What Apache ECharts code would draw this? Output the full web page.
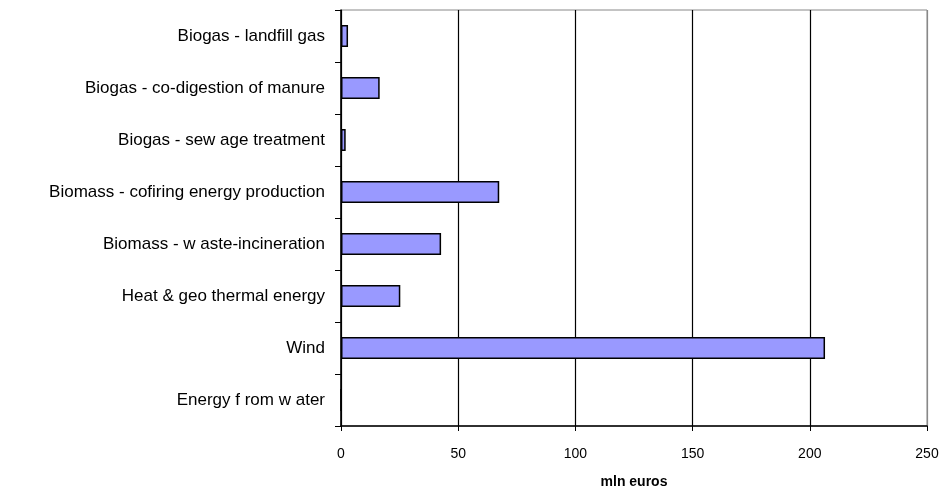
<!DOCTYPE html>
<html>
<head>
<meta charset="utf-8">
<script src="https://cdn.jsdelivr.net/npm/echarts@6/dist/echarts.min.js"></script>
<style>
  html, body { margin: 0; padding: 0; background: #fff; }
  #chart { width: 944px; height: 489px; }
</style>
</head>
<body>
<div id="chart"></div>
<script>
// Investment per renewable source, listed top to bottom
const categories = [
  'Biogas - landfill gas',
  'Biogas - co-digestion of manure',
  'Biogas - sew age treatment',
  'Biomass - cofiring energy production',
  'Biomass - w aste-incineration',
  'Heat & geo thermal energy',
  'Wind',
  'Energy f rom w ater'
];
const values = [3, 16.5, 2, 67.5, 42.7, 25.3, 206.5, 0];
const xTicks = [0, 50, 100, 150, 200, 250];
const xAxisTitle = 'mln euros';

const chart = echarts.init(document.getElementById('chart'), null, { renderer: 'canvas' });
const font = 'Liberation Sans, Arial, sans-serif';

chart.setOption({
  animation: false,
  backgroundColor: '#ffffff',
  grid: {
    left: 341, right: 17, top: 10, bottom: 63,
    outerBoundsMode: 'none',
    containLabel: false,
    show: true, borderColor: '#888888', borderWidth: 1
  },
  xAxis: {
    type: 'value',
    min: xTicks[0],
    max: xTicks[xTicks.length - 1],
    interval: xTicks[1] - xTicks[0],
    name: xAxisTitle,
    nameLocation: 'middle',
    nameGap: 49,
    nameTextStyle: { fontFamily: font, fontSize: 14, fontWeight: 'bold', color: '#000' },
    axisLine: { show: true, lineStyle: { color: '#000', width: 1.5 } },
    axisTick: { show: true, length: 5, lineStyle: { color: '#000', width: 1 } },
    axisLabel: { fontFamily: font, fontSize: 14, color: '#000', margin: 21 },
    splitLine: {
      show: true,
      lineStyle: { color: ['#000', '#000', '#000', '#000', '#000', '#888'], width: 1.2 }
    }
  },
  yAxis: {
    type: 'category',
    data: categories,
    inverse: true,
    axisLine: { show: true, lineStyle: { color: '#000', width: 1.5 } },
    axisTick: { show: true, length: 6, lineStyle: { color: '#000', width: 1 } },
    axisLabel: { fontFamily: font, fontSize: 17, color: '#000', margin: 16 },
    splitLine: { show: false }
  },
  series: [{
    type: 'bar',
    data: values,
    barWidth: 22,
    itemStyle: { color: '#9999ff', borderColor: '#000', borderWidth: 1.5 },
    emphasis: { disabled: true }
  }]
});
</script>
</body>
</html>
